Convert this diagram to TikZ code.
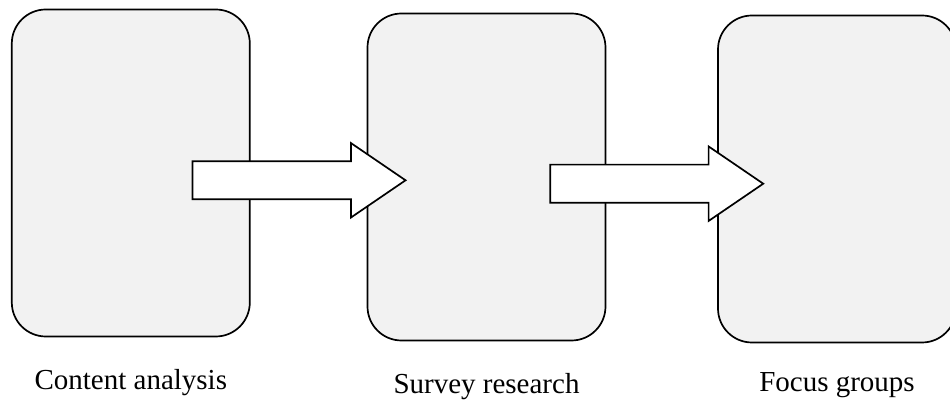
\documentclass[tikz,border=0pt]{standalone}
\usepackage{fontspec}
\setmainfont{Liberation Serif}
\usetikzlibrary{positioning,shapes.arrows}
\definecolor{boxgray}{RGB}{242,242,242}

\begin{document}
\begin{tikzpicture}[x=0.5pt, y=-0.5pt,
    stage/.style={draw, line width=0.85pt, fill=boxgray, rounded corners=17pt,
        minimum width=119pt, minimum height=163.5pt, inner sep=0pt},
    stagelabel/.style={font=\fontsize{14.5pt}{17pt}\selectfont, inner sep=0pt},
    blockarrow/.style={single arrow, draw, line width=0.85pt, fill=white, anchor=tail,
        inner xsep=0pt, inner ysep=9.1pt, minimum height=106.5pt, minimum width=0pt,
        single arrow head extend=9.1pt, single arrow tip angle=68.6}]
    % Three stages, the last one runs past the right edge.
    \useasboundingbox (0,0) rectangle (950,400);

    \node[stage] (content) at (130.8,173) {};
    \node[stage] (survey) at (486.5,177) {};
    \node[stage] (focus) at (837,179) {};

    \node[blockarrow] (arrA) at (191.7,180.3) {};
    \node[blockarrow] (arrB) at (549.4,183.7) {};

    \node[stagelabel, below=26pt of content, anchor=base] (lcontent) {Content analysis};
    \node[stagelabel, below=26pt of survey, anchor=base] (lsurvey) {Survey research};
    \node[stagelabel, below=24pt of focus, anchor=base] (lfocus) {Focus groups};
\end{tikzpicture}
\end{document}
